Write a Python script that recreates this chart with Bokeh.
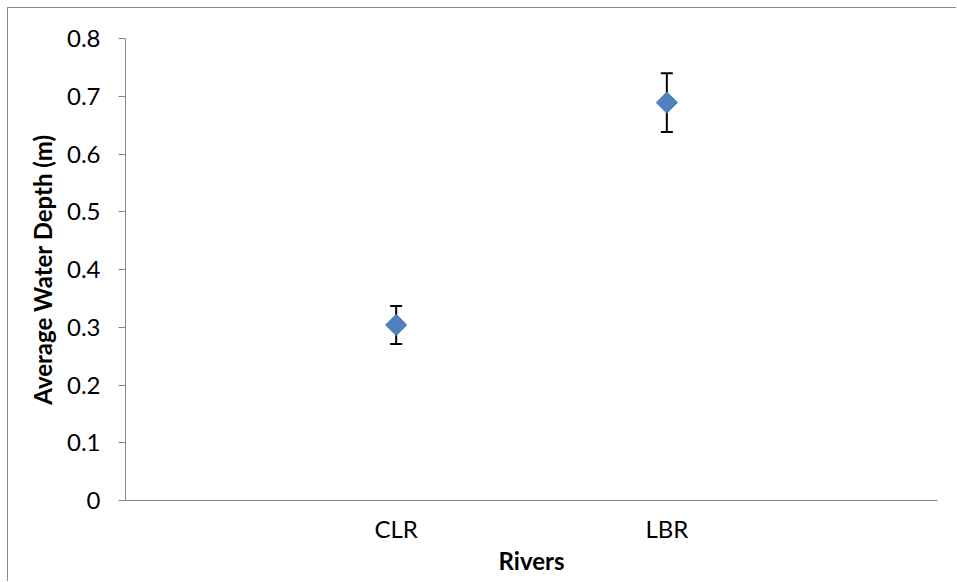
import math
from bokeh.plotting import figure
from bokeh.models import Range1d, FixedTicker, Whisker, TeeHead, ColumnDataSource
from bokeh.embed import file_html
from bokeh.resources import INLINE

rivers = ["CLR", "LBR"]
positions = [1, 2]
depth = [0.304, 0.689]
err = [0.033, 0.051]
y_ticks = [0, 0.1, 0.2, 0.3, 0.4, 0.5, 0.6, 0.7, 0.8]

src = ColumnDataSource(dict(
    x=positions,
    y=depth,
    upper=[d + e for d, e in zip(depth, err)],
    lower=[d - e for d, e in zip(depth, err)],
))

p = figure(width=949, height=574, output_backend="svg", toolbar_location=None,
           x_range=Range1d(0, 3), y_range=Range1d(0, 0.8))
p.styles = {"margin-top": "7px", "margin-left": "7px",
            "border-top": "1px solid #8a8a8a", "border-left": "1px solid #8a8a8a"}
p.min_border_left = 117
p.min_border_right = 20
p.min_border_top = 30
p.min_border_bottom = 82
p.outline_line_color = None
p.grid.visible = False
p.background_fill_color = "white"
p.border_fill_color = "white"

FONT = "Lato"
GRAY = "#868686"
FS = "24px"

# y axis
ya = p.yaxis[0]
ya.ticker = FixedTicker(ticks=y_ticks)
ya.major_label_overrides = {0: "0"}
ya.axis_line_color = GRAY
ya.major_tick_line_color = GRAY
ya.major_tick_out = 7
ya.major_tick_in = 0
ya.minor_tick_line_color = None
ya.major_label_standoff = 18
ya.major_label_text_font = FONT
ya.major_label_text_font_size = FS
ya.major_label_text_color = "black"
ya.axis_label = "Average Water Depth (m)"
ya.axis_label_text_font = FONT
ya.axis_label_text_font_size = FS
ya.axis_label_text_font_style = "bold"
ya.axis_label_text_color = "black"
ya.axis_label_standoff = 7

# x axis
xa = p.xaxis[0]
xa.ticker = FixedTicker(ticks=positions)
xa.major_label_overrides = {pos: name for pos, name in zip(positions, rivers)}
xa.axis_line_color = GRAY
xa.major_tick_line_color = None
xa.major_tick_out = 0
xa.major_tick_in = 0
xa.minor_tick_line_color = None
xa.major_label_standoff = 13
xa.major_label_text_font = FONT
xa.major_label_text_font_size = FS
xa.major_label_text_color = "black"
xa.axis_label = "Rivers"
xa.axis_label_text_font = FONT
xa.axis_label_text_font_size = FS
xa.axis_label_text_font_style = "bold"
xa.axis_label_text_color = "black"
xa.axis_label_standoff = 0

w = Whisker(source=src, base="x", upper="upper", lower="lower",
            line_color="black", line_width=2,
            upper_head=TeeHead(size=12, line_width=2, line_color="black"),
            lower_head=TeeHead(size=12, line_width=2, line_color="black"),
            level="underlay")
p.add_layout(w)

p.scatter("x", "y", source=src, marker="square", size=15, angle=math.pi / 4,
          fill_color="#4F81BD", line_color="#4A7EBB", line_width=1)

open("out.html", "w").write(file_html(p, INLINE))
